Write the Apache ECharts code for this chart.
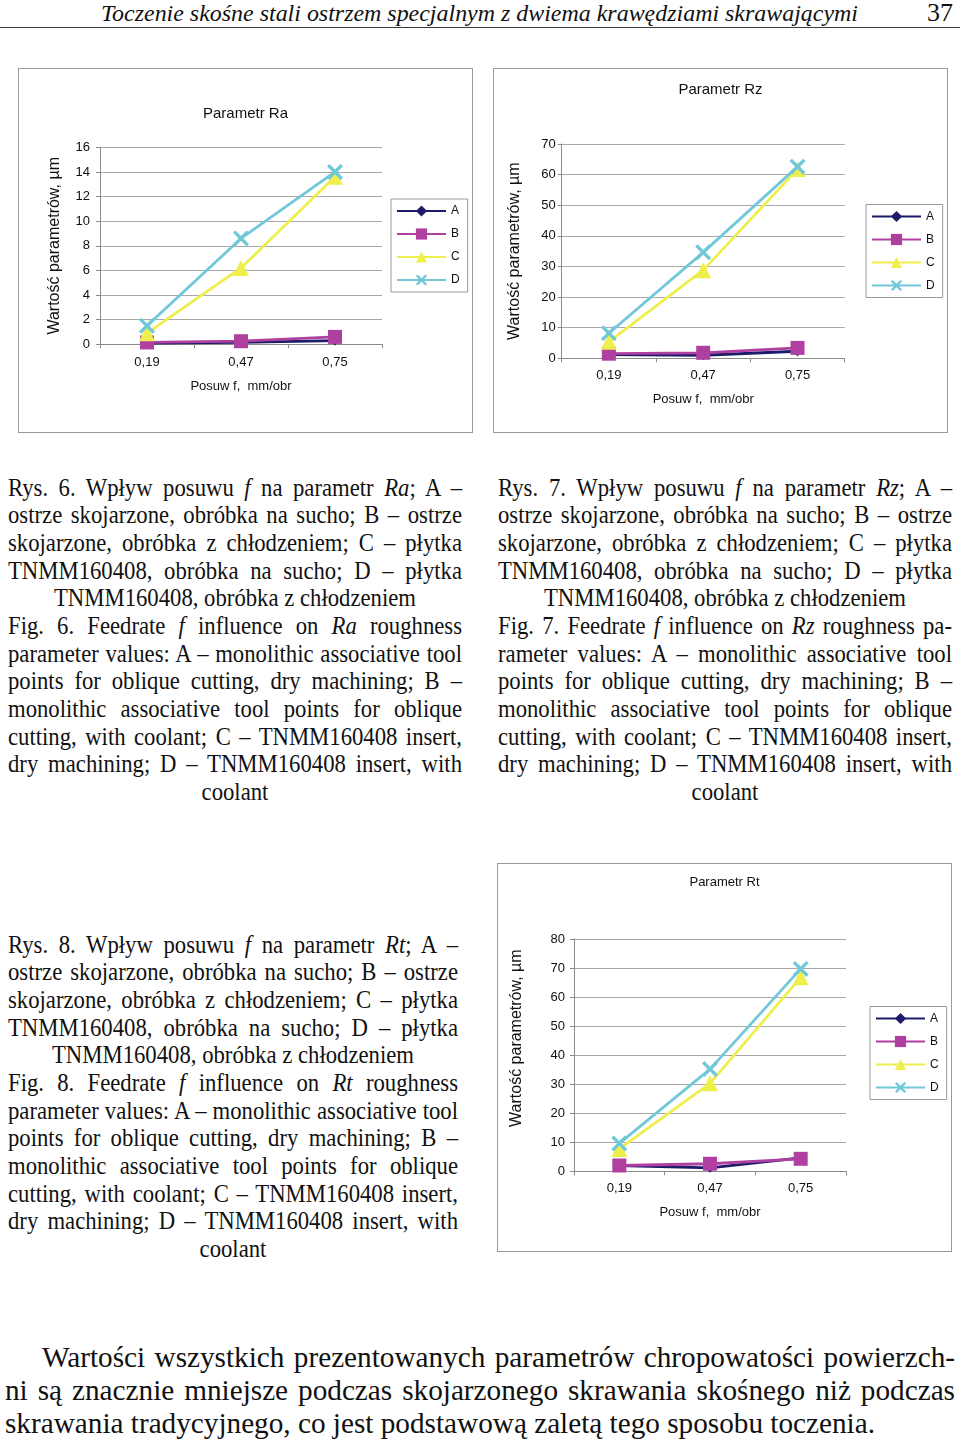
<!DOCTYPE html>
<html>
<head>
<meta charset="utf-8">
<script src="https://cdn.jsdelivr.net/npm/echarts@6/dist/echarts.min.js"></script>
<style>
html,body{margin:0;padding:0;background:#fff;}
#page{position:relative;width:960px;height:1440px;overflow:hidden;font-family:"Liberation Serif","Times New Roman",serif;color:#111;background:#fff;}
.box{position:absolute;border:1px solid #9a9a9a;box-sizing:border-box;background:#fff;}
.chart{position:absolute;left:0;top:0;width:100%;height:100%;}
.blk{position:absolute;transform-origin:0 0;white-space:nowrap;}
.cap{font-size:26px;line-height:27.7px;}
.ln{display:block;text-align:justify;text-align-last:justify;white-space:nowrap;height:27.7px;}
.ctr{text-align:center;text-align-last:center;}
.para{font-size:30px;line-height:33px;}
.para .ln{height:33px;}
.left{text-align:left;text-align-last:left;}
#hdr{position:absolute;left:101px;top:1px;font-style:italic;font-size:24px;line-height:24px;white-space:nowrap;transform-origin:0 0;}
#pg{position:absolute;right:7px;top:0px;font-size:26px;line-height:26px;}
#rule{position:absolute;left:0;top:26.5px;width:960px;height:1.5px;background:#3a3a3a;}
</style>
</head>
<body>
<div id="page">
  <div id="hdr"><span id="hdrTxt">Toczenie skośne stali ostrzem specjalnym z dwiema krawędziami skrawającymi</span></div>
  <div id="pg">37</div>
  <div id="rule"></div>

  <div class="box" style="left:18px;top:68px;width:455px;height:365px;"><div class="chart" id="c1"></div></div>
  <div class="box" style="left:493px;top:68px;width:455px;height:365px;"><div class="chart" id="c2"></div></div>
  <div class="box" style="left:497px;top:863px;width:455px;height:389px;"><div class="chart" id="c3"></div></div>

  <div class="blk cap" id="b1" data-w="454" style="left:8px;top:473.5px;">
    <div class="ln">Rys. 6. Wpływ posuwu <i>f</i> na parametr <i>Ra</i>; A –</div>
    <div class="ln">ostrze skojarzone, obróbka na sucho; B – ostrze</div>
    <div class="ln">skojarzone, obróbka z chłodzeniem; C – płytka</div>
    <div class="ln">TNMM160408, obróbka na sucho; D – płytka</div>
    <div class="ln ctr"><span class="ref">TNMM160408, obróbka z chłodzeniem</span></div>
    <div class="ln">Fig. 6. Feedrate <i>f</i> influence on <i>Ra</i> roughness</div>
    <div class="ln">parameter values: A – monolithic associative tool</div>
    <div class="ln">points for oblique cutting, dry machining; B –</div>
    <div class="ln">monolithic associative tool points for oblique</div>
    <div class="ln">cutting, with coolant; C – TNMM160408 insert,</div>
    <div class="ln">dry machining; D – TNMM160408 insert, with</div>
    <div class="ln ctr">coolant</div>
  </div>

  <div class="blk cap" id="b2" data-w="454" style="left:498px;top:473.5px;">
    <div class="ln">Rys. 7. Wpływ posuwu <i>f</i> na parametr <i>Rz</i>; A –</div>
    <div class="ln">ostrze skojarzone, obróbka na sucho; B – ostrze</div>
    <div class="ln">skojarzone, obróbka z chłodzeniem; C – płytka</div>
    <div class="ln">TNMM160408, obróbka na sucho; D – płytka</div>
    <div class="ln ctr"><span class="ref">TNMM160408, obróbka z chłodzeniem</span></div>
    <div class="ln">Fig. 7. Feedrate <i>f</i> influence on <i>Rz</i> roughness pa-</div>
    <div class="ln">rameter values: A – monolithic associative tool</div>
    <div class="ln">points for oblique cutting, dry machining; B –</div>
    <div class="ln">monolithic associative tool points for oblique</div>
    <div class="ln">cutting, with coolant; C – TNMM160408 insert,</div>
    <div class="ln">dry machining; D – TNMM160408 insert, with</div>
    <div class="ln ctr">coolant</div>
  </div>

  <div class="blk cap" id="b3" data-w="450" style="left:8px;top:930.5px;">
    <div class="ln">Rys. 8. Wpływ posuwu <i>f</i> na parametr <i>Rt</i>; A –</div>
    <div class="ln">ostrze skojarzone, obróbka na sucho; B – ostrze</div>
    <div class="ln">skojarzone, obróbka z chłodzeniem; C – płytka</div>
    <div class="ln">TNMM160408, obróbka na sucho; D – płytka</div>
    <div class="ln ctr"><span class="ref">TNMM160408, obróbka z chłodzeniem</span></div>
    <div class="ln">Fig. 8. Feedrate <i>f</i> influence on <i>Rt</i> roughness</div>
    <div class="ln">parameter values: A – monolithic associative tool</div>
    <div class="ln">points for oblique cutting, dry machining; B –</div>
    <div class="ln">monolithic associative tool points for oblique</div>
    <div class="ln">cutting, with coolant; C – TNMM160408 insert,</div>
    <div class="ln">dry machining; D – TNMM160408 insert, with</div>
    <div class="ln ctr">coolant</div>
  </div>

  <div class="blk para" id="b4" data-w="950" style="left:5px;top:1340px;">
    <div class="ln" id="p1">Wartości wszystkich prezentowanych parametrów chropowatości powierzch-</div>
    <div class="ln">ni są znacznie mniejsze podczas skojarzonego skrawania skośnego niż podczas</div>
    <div class="ln left"><span id="pref">skrawania tradycyjnego, co jest podstawową zaletą tego sposobu toczenia.</span></div>
  </div>
</div>

<script>
// ---------- data ----------
const categories = ['0,19', '0,47', '0,75'];
const seriesNames = ['A', 'B', 'C', 'D'];

const raA = [0.1, 0.15, 0.3];
const raB = [0.15, 0.25, 0.6];
const raC = [0.9, 6.2, 13.6];
const raD = [1.5, 8.6, 14.0];

const rzA = [1.2, 1.0, 2.3];
const rzB = [1.5, 1.8, 3.4];
const rzC = [5.4, 28.8, 61.8];
const rzD = [8.2, 34.6, 62.6];

const rtA = [2.0, 1.2, 4.6];
const rtB = [2.0, 2.6, 4.3];
const rtC = [7.7, 30.3, 66.8];
const rtD = [9.6, 35.2, 69.7];

const xAxisName = 'Posuw f,  mm/obr';
const yAxisName = 'Wartość parametrów, µm';

// ---------- text fitting ----------
(function fitText() {
  const blocks = ['b1', 'b2', 'b3'].map(id => document.getElementById(id));
  const caps = blocks.map(b => b.querySelector('.ref').getBoundingClientRect().width);
  const pw = document.getElementById('pref').getBoundingClientRect().width;
  const hw = document.getElementById('hdrTxt').getBoundingClientRect().width;
  blocks.forEach((b, i) => {
    const s = 362 / caps[i];
    const w = +b.dataset.w;
    b.style.width = (w / s) + 'px';
    b.style.transform = 'scaleX(' + s + ')';
  });
  const b4 = document.getElementById('b4');
  const s4 = 870 / pw;
  b4.style.width = (950 / s4) + 'px';
  b4.style.transform = 'scaleX(' + s4 + ')';
  document.getElementById('p1').style.paddingLeft = (37 / s4) + 'px';
  document.getElementById('hdr').style.transform = 'scaleX(' + (757 / hw) + ')';
})();

// ---------- charts ----------
const COLORS = ['#1c1c6a', '#b040a0', '#eeee4c', '#70c8d8'];
const SYMBOLS = ['diamond', 'rect', 'triangle',
  'path://M0,1.5 L1.5,0 L5,3.5 L8.5,0 L10,1.5 L6.5,5 L10,8.5 L8.5,10 L5,6.5 L1.5,10 L0,8.5 L3.5,5 Z'];
const SIZES = [10, 14, 16, 16];
const SANS = '"Liberation Sans", Arial, sans-serif';

function buildOption(cfg) {
  return {
    animation: false,
    title: {
      text: cfg.title, left: 'center', top: cfg.titleTop, padding: 0,
      textStyle: { fontFamily: SANS, fontSize: cfg.titleSize, fontWeight: 'normal', color: '#111' }
    },
    grid: { left: cfg.grid[0], top: cfg.grid[1], width: cfg.grid[2], height: cfg.grid[3], containLabel: false, outerBoundsMode: 'none' },
    legend: {
      orient: 'vertical', left: cfg.legend[0], top: cfg.legend[1],
      padding: [5, 8, 5, 5], itemWidth: 49, itemHeight: 14, itemGap: 9,
      borderColor: '#9a9a9a', borderWidth: 1, borderRadius: 0, backgroundColor: '#fff',
      textStyle: { fontFamily: SANS, fontSize: 12, color: '#111', lineHeight: 14 },
      data: seriesNames
    },
    xAxis: {
      type: 'category', data: categories, boundaryGap: true,
      name: xAxisName, nameLocation: 'middle', nameGap: cfg.xNameGap,
      nameTextStyle: { fontFamily: SANS, fontSize: 13, color: '#111' },
      axisLine: { show: true, lineStyle: { color: '#8a8a8a', width: 1 } },
      axisTick: { show: true, length: 4, alignWithLabel: false, lineStyle: { color: '#8a8a8a' } },
      axisLabel: { margin: cfg.xLabelMargin, fontFamily: SANS, fontSize: 13, color: '#111' },
      splitLine: { show: false }
    },
    yAxis: {
      type: 'value', min: 0, max: cfg.max, interval: cfg.interval,
      name: yAxisName, nameLocation: 'middle', nameGap: cfg.yNameGap, nameRotate: 90,
      nameTextStyle: { fontFamily: SANS, fontSize: 16, color: '#111', padding: cfg.yNamePad || 0 },
      axisLine: { show: true, lineStyle: { color: '#8a8a8a', width: 1 } },
      axisTick: { show: true, length: 4, lineStyle: { color: '#8a8a8a' } },
      axisLabel: { margin: cfg.yLabelMargin, fontFamily: SANS, fontSize: 13, color: '#111' },
      splitLine: { show: true, lineStyle: { color: '#a8a8a8', width: 1 } }
    },
    series: cfg.data.map((d, i) => ({
      name: seriesNames[i], type: 'line', data: d,
      symbol: SYMBOLS[i], symbolSize: SIZES[i], showSymbol: true,
      lineStyle: { width: 2.8, color: COLORS[i] },
      itemStyle: { color: COLORS[i], borderWidth: 0 },
      emphasis: { disabled: true }
    }))
  };
}

const charts = [
  { id: 'c1', title: 'Parametr Ra', titleTop: 37, titleSize: 15,
    grid: [81, 78.3, 282, 197], legend: [372, 130],
    max: 16, interval: 2, xNameGap: 36, xLabelMargin: 12, yNameGap: 37, yLabelMargin: 10,
    data: [raA, raB, raC, raD] },
  { id: 'c2', title: 'Parametr Rz', titleTop: 13, titleSize: 15,
    grid: [67.7, 75, 283, 214.3], legend: [372, 135.5],
    max: 70, interval: 10, xNameGap: 35, xLabelMargin: 11, yNameGap: 39.5, yLabelMargin: 6,
    data: [rzA, rzB, rzC, rzD] },
  { id: 'c3', title: 'Parametr Rt', titleTop: 11.5, titleSize: 13,
    grid: [76, 75, 272, 232.3], legend: [372, 142.5],
    max: 80, interval: 10, xNameGap: 34.5, xLabelMargin: 11, yNameGap: 49.5, yLabelMargin: 9,
    yNamePad: [0, 0, 0, 34],
    data: [rtA, rtB, rtC, rtD] }
];

charts.forEach(cfg => {
  const chart = echarts.init(document.getElementById(cfg.id), null, { renderer: 'canvas' });
  chart.setOption(buildOption(cfg));
});
</script>
</body>
</html>
